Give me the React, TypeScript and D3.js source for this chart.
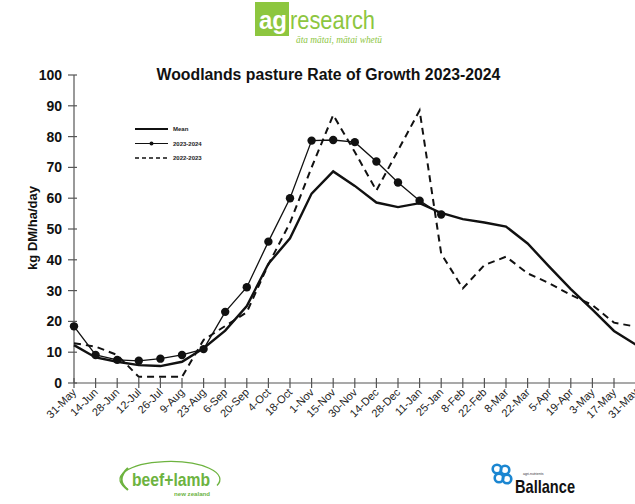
import React from "react";
import * as d3 from "d3";

const dates = ["31-May","14-Jun","28-Jun","12-Jul","26-Jul","9-Aug","23-Aug","6-Sep","20-Sep","4-Oct","18-Oct","1-Nov","15-Nov","30-Nov","14-Dec","28-Dec","11-Jan","25-Jan","8-Feb","22-Feb","8-Mar","22-Mar","5-Apr","19-Apr","3-May","17-May","31-May"];
const meanValues = [12.3, 8.3, 6.9, 5.8, 5.5, 6.9, 11.3, 17.0, 25.0, 38.7, 47.0, 61.5, 68.7, 64.0, 58.6, 57.1, 58.4, 55.2, 53.2, 52.1, 50.8, 45.3, 37.8, 30.5, 23.8, 16.9, 12.5];
const s2324 = [18.4, 9.1, 7.5, 7.2, 7.9, 9.1, 11.0, 23.1, 31.1, 45.9, 60.0, 78.7, 78.9, 78.2, 71.9, 65.1, 59.2, 54.7];
const s2223 = [12.9, 11.8, 9.1, 2.0, 2.0, 2.0, 14.0, 18.5, 23.0, 38.5, 52.0, 70.0, 87.0, 75.0, 62.5, 75.5, 88.5, 42.0, 30.7, 38.3, 41.0, 35.6, 32.4, 28.6, 25.3, 19.6, 18.3];
const yTicks = [0, 10, 20, 30, 40, 50, 60, 70, 80, 90, 100];
const legendItems = ["Mean", "2023-2024", "2022-2023"];

const FONT = "'Liberation Sans', Arial, sans-serif";

export default function App() {
  const x = d3.scaleLinear().domain([0, dates.length - 1]).range([74, 635.6]);
  const y = d3.scaleLinear().domain([0, 100]).range([383, 75]);
  const line = d3.line<number>().x((_, i) => x(i)).y((d) => y(d));
  const axisColor = "#555";

  return (
    <svg width={635} height={504} style={{ position: "absolute", left: 0, top: 0, background: "#fff" }} fontFamily={FONT}>
      {/* agresearch logo */}
      <g>
        <rect x={255} y={2} width={34} height={34} fill="#8dc63f" />
        <text x={259} y={29} fill="#fff" fontSize={26} fontWeight="bold" textLength={28} lengthAdjust="spacingAndGlyphs" fontFamily={FONT}>ag</text>
        <text x={290} y={29} fill="#8dc63f" fontSize={25} textLength={85} lengthAdjust="spacingAndGlyphs" fontFamily={FONT}>research</text>
        <text x={296} y={43} fill="#8dc63f" fontSize={11} fontStyle="italic" fontFamily="'Liberation Serif', serif" textLength={86} lengthAdjust="spacingAndGlyphs">āta mātai, mātai whetū</text>
      </g>

      {/* Title */}
      <text x={328.5} y={80} textAnchor="middle" fontSize={15.8} fontWeight="bold" fill="#111">Woodlands pasture Rate of Growth 2023-2024</text>

      {/* Y axis */}
      <line x1={74} x2={74} y1={75} y2={383} stroke={axisColor} strokeWidth={1.2} />
      {yTicks.map((t) => (
        <g key={t}>
          <line x1={68} x2={77} y1={y(t)} y2={y(t)} stroke={axisColor} strokeWidth={1.2} />
          <text x={62} y={y(t)} dy="0.36em" textAnchor="end" fontSize={14} fontWeight="bold" fill="#111">{t}</text>
        </g>
      ))}
      <text transform="translate(37,228) rotate(-90)" textAnchor="middle" fontSize={13} fontWeight="bold" fill="#111">kg DM/ha/day</text>

      {/* X axis */}
      <line x1={74} x2={635} y1={383} y2={383} stroke={axisColor} strokeWidth={1.2} />
      {dates.map((d, i) => (
        <g key={i}>
          <line x1={x(i)} x2={x(i)} y1={378} y2={388} stroke={axisColor} strokeWidth={1.2} />
          <text transform={`translate(${x(i) + 3},${393}) rotate(-45)`} textAnchor="end" fontSize={11} fill="#222">{d}</text>
        </g>
      ))}

      {/* Series */}
      <path d={line(s2223) || ""} fill="none" stroke="#111" strokeWidth={2} strokeDasharray="7,5" />
      <path d={line(meanValues) || ""} fill="none" stroke="#111" strokeWidth={2.4} />
      <path d={line(s2324) || ""} fill="none" stroke="#111" strokeWidth={1.3} />
      {s2324.map((v, i) => (
        <circle key={i} cx={x(i)} cy={y(v)} r={4.2} fill="#111" />
      ))}

      {/* Legend */}
      <g fontSize={6} fontWeight="bold" fill="#222">
        <line x1={135} x2={168} y1={129} y2={129} stroke="#111" strokeWidth={2} />
        <text x={173} y={129} dy="0.35em">{legendItems[0]}</text>
        <line x1={135} x2={168} y1={143.5} y2={143.5} stroke="#111" strokeWidth={1.2} />
        <circle cx={151.5} cy={143.5} r={2} fill="#111" />
        <text x={173} y={143.5} dy="0.35em">{legendItems[1]}</text>
        <line x1={135} x2={168} y1={158} y2={158} stroke="#111" strokeWidth={1.5} strokeDasharray="4,3" />
        <text x={173} y={158} dy="0.35em">{legendItems[2]}</text>
      </g>

      {/* beef+lamb logo */}
      <g>
        <path d="M 127.6 489 A 50 18 0 1 1 217 485.5" fill="none" stroke="#6db33f" strokeWidth={1.3} />
        <path d="M 128 490 Q 115 480 128 468" fill="none" stroke="#6db33f" strokeWidth={2.2} />
        <text x={132} y={486} fill="#6db33f" fontSize={19} fontWeight="bold" textLength={78} lengthAdjust="spacingAndGlyphs">beef+lamb</text>
        <text x={174} y={495.5} fill="#6db33f" fontSize={5.5} fontWeight="bold" textLength={36} lengthAdjust="spacingAndGlyphs">new zealand</text>
      </g>

      {/* Ballance logo */}
      <g>
        <circle cx={497} cy={469} r={4.3} fill="none" stroke="#1b86d1" strokeWidth={2.6} />
        <circle cx={505} cy={470} r={4.3} fill="none" stroke="#1b86d1" strokeWidth={2.6} />
        <circle cx={499} cy={478} r={4.3} fill="none" stroke="#1b86d1" strokeWidth={2.6} />
        <circle cx={507} cy={479} r={4.3} fill="none" stroke="#1b86d1" strokeWidth={2.6} />
        <text x={523} y={474.5} fontSize={3.5} fill="#333">agri-nutrients</text>
        <text x={515} y={493} fontSize={19} fontWeight="bold" fill="#111" textLength={60} lengthAdjust="spacingAndGlyphs">Ballance</text>
      </g>
    </svg>
  );
}
